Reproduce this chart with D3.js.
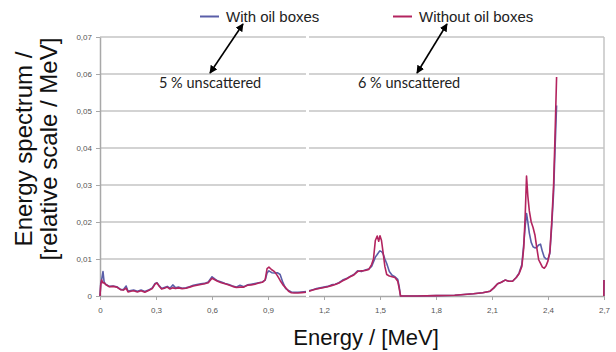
<!DOCTYPE html>
<html>
<head>
<meta charset="utf-8">
<script src="https://cdn.jsdelivr.net/npm/d3@7"></script>
<style>
  body { margin: 0; background: #fff; }
  svg { display: block; }
</style>
</head>
<body>
<svg width="616" height="352"></svg>
<script>
// energy grid (MeV), null entries mark the break in the curves
var energy = [0, 0.004, 0.009, 0.016, 0.022, 0.03, 0.05, 0.07, 0.09, 0.11, 0.125, 0.14, 0.15, 0.165, 0.18, 0.2, 0.22, 0.24, 0.26, 0.28,
  0.295, 0.305, 0.315, 0.33, 0.345, 0.36, 0.375, 0.39, 0.405, 0.42, 0.44, 0.46, 0.48, 0.5, 0.52, 0.54, 0.56, 0.58, 0.6, 0.615,
  0.63, 0.65, 0.67, 0.69, 0.71, 0.73, 0.75, 0.77, 0.79, 0.81, 0.83, 0.85, 0.87, 0.885, 0.895, 0.905, 0.92, 0.935, 0.95, 0.965,
  0.98, 0.995, 1.01, 1.025, 1.04, 1.06, 1.08, 1.105, 1.112, 1.12, 1.14, 1.16, 1.18, 1.2, 1.22, 1.24, 1.26, 1.28, 1.3, 1.32,
  1.34, 1.36, 1.38, 1.4, 1.42, 1.44, 1.455, 1.465, 1.475, 1.485, 1.493, 1.5, 1.508, 1.516, 1.526, 1.536, 1.55, 1.565, 1.58, 1.595,
  1.603, 1.61, 1.7, 1.8, 1.9, 1.95, 2.0, 2.05, 2.09, 2.11, 2.13, 2.15, 2.17, 2.19, 2.21, 2.23, 2.245, 2.26, 2.27, 2.278,
  2.285, 2.292, 2.3, 2.31, 2.32, 2.33, 2.34, 2.35, 2.36, 2.37, 2.38, 2.39, 2.4, 2.41, 2.42, 2.43, 2.438, 2.446, 2.5, 2.699, 2.7];

var withOil = [0, 0.0035, 0.0045, 0.0066, 0.0038, 0.0032, 0.0026, 0.0027, 0.0025, 0.0018, 0.0017, 0.0027, 0.0013, 0.0015, 0.0016, 0.0013, 0.0016, 0.0012, 0.0016, 0.0022,
  0.0034, 0.0036, 0.0029, 0.0020, 0.0023, 0.0026, 0.0021, 0.0030, 0.0022, 0.0024, 0.0021, 0.0022, 0.0025, 0.0029, 0.0031, 0.0033, 0.0034, 0.0038, 0.0052, 0.0046,
  0.0041, 0.0038, 0.0034, 0.0031, 0.0027, 0.0024, 0.0029, 0.0025, 0.0030, 0.0032, 0.0034, 0.0036, 0.0038, 0.0043, 0.0062, 0.0068, 0.0063, 0.0062, 0.0063, 0.0058,
  0.0036, 0.0020, 0.0015, 0.0011, 0.0010, 0.0010, 0.0011, 0.0012, null, 0.0014, 0.0017, 0.0020, 0.0022, 0.0024, 0.0026, 0.0030, 0.0032, 0.0036, 0.0043, 0.0047,
  0.0053, 0.0058, 0.0068, 0.0066, 0.0070, 0.0073, 0.0080, 0.0092, 0.0105, 0.0112, 0.0118, 0.0122, 0.0120, 0.0115, 0.0100, 0.0088, 0.0066, 0.0056, 0.0052, 0.0045,
  0.0025, 0, 0, 0.0001, 0.0002, 0.0004, 0.0006, 0.0009, 0.0013, 0.0022, 0.0033, 0.0037, 0.0043, 0.0040, 0.0040, 0.0050, 0.0062, 0.0085, 0.0140, 0.0190,
  0.0223, 0.0200, 0.0170, 0.0145, 0.0133, 0.0130, 0.0132, 0.0138, 0.0140, 0.0120, 0.0105, 0.0100, 0.0100, 0.0115, 0.0190, 0.0280, 0.0400, 0.0515, null, 0, 0.0043];

var withoutOil = [0, 0.0030, 0.0043, 0.0035, 0.0036, 0.0031, 0.0025, 0.0026, 0.0024, 0.0017, 0.0016, 0.0021, 0.0011, 0.0013, 0.0014, 0.0011, 0.0014, 0.0010, 0.0015, 0.0020,
  0.0032, 0.0035, 0.0028, 0.0019, 0.0021, 0.0024, 0.0019, 0.0022, 0.0020, 0.0022, 0.0020, 0.0021, 0.0024, 0.0027, 0.0029, 0.0031, 0.0033, 0.0036, 0.0048, 0.0044,
  0.0040, 0.0036, 0.0033, 0.0030, 0.0026, 0.0023, 0.0024, 0.0024, 0.0029, 0.0030, 0.0032, 0.0035, 0.0037, 0.0044, 0.0074, 0.0078, 0.0071, 0.0066, 0.0055, 0.0042,
  0.0030, 0.0022, 0.0013, 0.0009, 0.0008, 0.0008, 0.0009, 0.0010, null, 0.0013, 0.0016, 0.0019, 0.0021, 0.0023, 0.0025, 0.0028, 0.0031, 0.0035, 0.0041, 0.0046,
  0.0052, 0.0057, 0.0066, 0.0068, 0.0069, 0.0072, 0.0085, 0.0100, 0.0150, 0.0162, 0.0148, 0.0163, 0.0150, 0.0120, 0.0080, 0.0058, 0.0054, 0.0052, 0.0050, 0.0040,
  0.0020, 0, 0, 0.0001, 0.0002, 0.0004, 0.0006, 0.0009, 0.0013, 0.0022, 0.0033, 0.0037, 0.0043, 0.0040, 0.0040, 0.0050, 0.0060, 0.0080, 0.0130, 0.0220,
  0.0324, 0.0270, 0.0230, 0.0200, 0.0185, 0.0165, 0.0130, 0.0098, 0.0088, 0.0078, 0.0075, 0.0082, 0.0095, 0.0120, 0.0200, 0.0300, 0.0440, 0.0592, null, 0, 0.0043];

var xTicks = [0, 0.3, 0.6, 0.9, 1.2, 1.5, 1.8, 2.1, 2.4, 2.7];
var yTicks = [0, 0.01, 0.02, 0.03, 0.04, 0.05, 0.06, 0.07];
var seriesNames = ["With oil boxes", "Without oil boxes"];
var seriesColors = ["#5a5ea8", "#b3245f"];
var notes = ["5 % unscattered", "6 % unscattered"];

var svg = d3.select("svg");

var x = d3.scaleLinear().domain([0, 2.7]).range([100, 604]);
var y = d3.scaleLinear().domain([0, 0.07]).range([296, 37]);

var fmt = function(d) { return d === 0 ? "0" : d3.format(".2~f")(d).replace(".", ","); };

// horizontal grid
svg.append("g")
  .selectAll("line")
  .data(yTicks.slice(1))
  .enter().append("line")
  .attr("x1", x(0)).attr("x2", x(2.7))
  .attr("y1", function(d) { return y(d); })
  .attr("y2", function(d) { return y(d); })
  .attr("stroke", "#c4c4c4")
  .attr("stroke-width", 1.5);

// right border
svg.append("line")
  .attr("x1", x(2.7)).attr("x2", x(2.7))
  .attr("y1", y(0.07)).attr("y2", y(0))
  .attr("stroke", "#c4c4c4")
  .attr("stroke-width", 1.5);

var xAxis = svg.append("g")
  .attr("transform", "translate(0," + y(0) + ")")
  .call(d3.axisBottom(x).tickValues(xTicks).tickFormat(fmt).tickSize(4).tickSizeOuter(0));

var yAxis = svg.append("g")
  .attr("transform", "translate(" + x(0) + ",0)")
  .call(d3.axisLeft(y).tickValues(yTicks).tickFormat(fmt).tickSize(4).tickSizeOuter(0));

[xAxis, yAxis].forEach(function(g) {
  g.select(".domain").attr("stroke", "#a8a8a8").attr("stroke-width", 1.5);
  g.selectAll(".tick line").attr("stroke", "#a8a8a8");
  g.selectAll("text")
    .attr("fill", "#555")
    .style("font-family", "'Liberation Sans', Arial, sans-serif")
    .style("font-size", "8px");
});
xAxis.selectAll("text").attr("dy", "1.3em");
yAxis.selectAll("text").attr("x", -8);

// curves
var rows = energy.map(function(e, i) { return { e: e, v: [withOil[i], withoutOil[i]] }; });

seriesNames.forEach(function(name, k) {
  var line = d3.line()
    .defined(function(d) { return d.v[k] !== null; })
    .x(function(d) { return x(d.e); })
    .y(function(d) { return y(d.v[k]); });

  svg.append("path")
    .datum(rows)
    .attr("fill", "none")
    .attr("stroke", seriesColors[k])
    .attr("stroke-width", 1.6)
    .attr("stroke-linejoin", "round")
    .attr("d", line);
});

// white seam in the original picture
svg.append("rect")
  .attr("x", 306).attr("y", 30)
  .attr("width", 3).attr("height", 267)
  .attr("fill", "#fff");

// legend
var legendX = [200, 393];
seriesNames.forEach(function(name, k) {
  svg.append("line")
    .attr("x1", legendX[k]).attr("x2", legendX[k] + 19)
    .attr("y1", 16.5).attr("y2", 16.5)
    .attr("stroke", seriesColors[k])
    .attr("stroke-width", 2);
  svg.append("text")
    .attr("x", legendX[k] + 26)
    .attr("y", 22)
    .attr("fill", "#222")
    .style("font-family", "'Liberation Sans', Arial, sans-serif")
    .style("font-size", "15px")
    .text(name);
});

// annotations with double arrows
svg.append("defs").append("marker")
  .attr("id", "head")
  .attr("viewBox", "0 0 10 10")
  .attr("refX", 9).attr("refY", 5)
  .attr("markerWidth", 5).attr("markerHeight", 5)
  .attr("orient", "auto-start-reverse")
  .append("path")
  .attr("d", "M0,0L10,5L0,10z")
  .attr("fill", "#000");

var arrows = [[210, 73, 243, 24], [417, 73, 447, 24]];
svg.selectAll(".arrow")
  .data(arrows)
  .enter().append("line")
  .attr("class", "arrow")
  .attr("x1", function(d) { return d[0]; })
  .attr("y1", function(d) { return d[1]; })
  .attr("x2", function(d) { return d[2]; })
  .attr("y2", function(d) { return d[3]; })
  .attr("stroke", "#000")
  .attr("stroke-width", 1.6)
  .attr("marker-start", "url(#head)")
  .attr("marker-end", "url(#head)");

var noteX = [159, 358];
notes.forEach(function(t, i) {
  svg.append("text")
    .attr("x", noteX[i])
    .attr("y", 88)
    .attr("fill", "#222")
    .style("font-family", "Lato, 'Open Sans', sans-serif")
    .style("font-size", "14.5px")
    .text(t);
});

// axis titles
svg.append("text")
  .attr("x", 366)
  .attr("y", 345)
  .attr("text-anchor", "middle")
  .attr("fill", "#111")
  .style("font-family", "'Liberation Sans', Arial, sans-serif")
  .style("font-size", "22px")
  .text("Energy / [MeV]");

var yTitle = svg.append("text")
  .attr("transform", "translate(0,149) rotate(-90)")
  .attr("text-anchor", "middle")
  .attr("fill", "#111")
  .style("font-family", "'Liberation Sans', Arial, sans-serif")
  .style("font-size", "24px");
yTitle.append("tspan").attr("x", 0).attr("y", 32).text("Energy spectrum /");
yTitle.append("tspan").attr("x", 0).attr("y", 57).text("[relative scale / MeV]");
</script>
</body>
</html>
